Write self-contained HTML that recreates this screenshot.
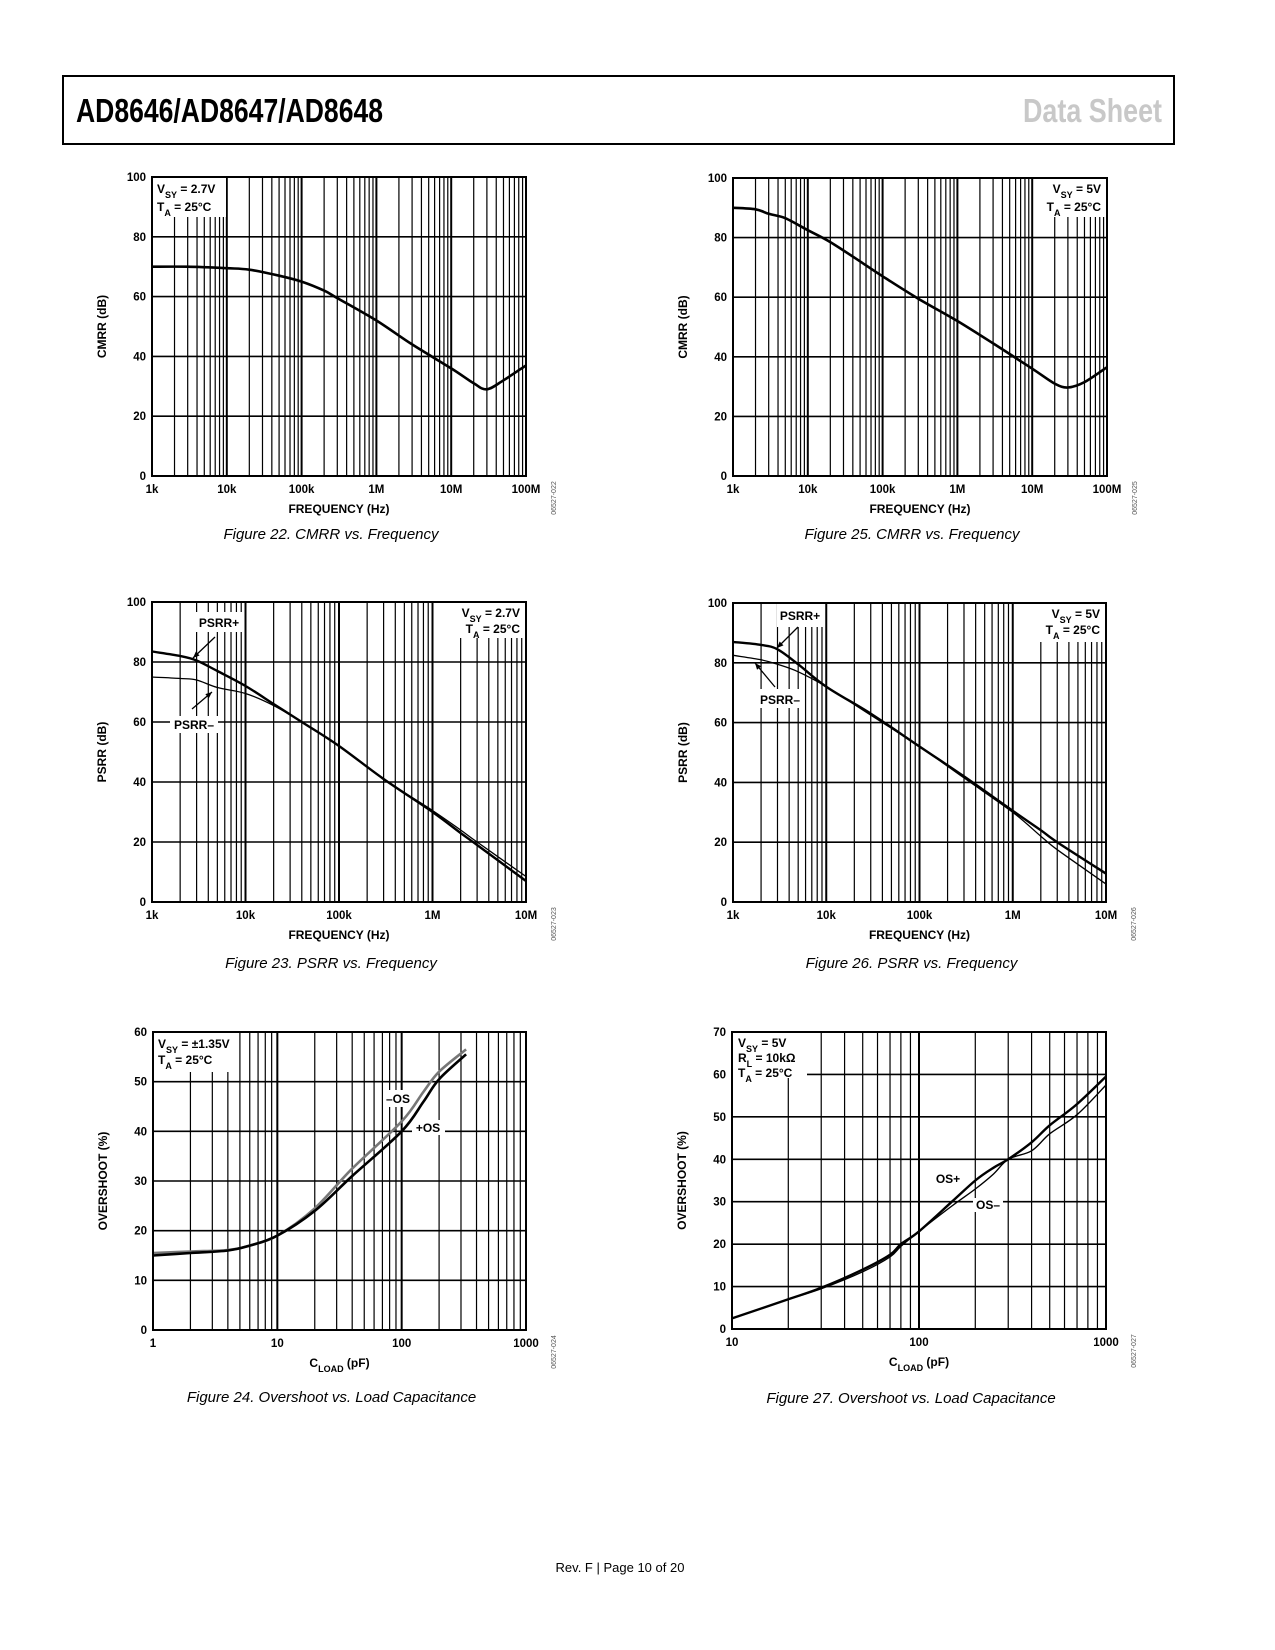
<!DOCTYPE html>
<html><head><meta charset="utf-8">
<style>
html,body{margin:0;padding:0;background:#fff;}
body{width:1275px;height:1650px;position:relative;overflow:hidden;}
svg{position:absolute;left:0;top:0;}
text{font-family:"Liberation Sans",Arial,sans-serif;}
</style></head>
<body>
<svg id="page" width="1275" height="1650" viewBox="0 0 1275 1650">
  <rect x="63" y="76" width="1111" height="68" fill="none" stroke="#000" stroke-width="2"/>
  <text x="76" y="122" font-size="33" font-weight="bold" textLength="307" lengthAdjust="spacingAndGlyphs">AD8646/AD8647/AD8648</text>
  <text x="1023" y="122" font-size="33" font-weight="bold" fill="#c8c8c8" textLength="139" lengthAdjust="spacingAndGlyphs">Data Sheet</text>
  <text x="620" y="1572" font-size="13" text-anchor="middle">Rev. F | Page 10 of 20</text>
  <g id="charts"></g>
</svg>
<script>
// ---- Figure 22: CMRR vs Freq, VSY=2.7V ----
const cmrr27Freq = [1e3,3e3,1e4,2e4,5e4,1e5,2e5,3e5,1e6,3e6,1e7,2e7,3e7,5e7,1e8];
const cmrr27Val  = [70,70,69.5,69,67,65,62,59.5,52,44,36,31,29,32,37];
// ---- Figure 25: CMRR vs Freq, VSY=5V ----
const cmrr5Freq = [1e3,2e3,3e3,5e3,1e4,2e4,5e4,1e5,3e5,1e6,3e6,1e7,2e7,3e7,5e7,1e8];
const cmrr5Val  = [90,89.5,88,86.5,82.5,78.5,72,67,59.5,52,44.5,36,31,29.7,31.5,36.5];
// ---- Figure 23: PSRR vs Freq, VSY=2.7V ----
const psrr27Freq = [1e3,2e3,3e3,5e3,1e4,2e4,4e4,1e5,3e5,1e6,2e6,3e6,1e7];
const psrr27Pos  = [83.5,82,80.5,77,72,66,60,52,41,30,23,19,7];
const psrr27Neg  = [75,74.5,74,71.5,69.5,65.5,60,52,41,30.5,24,20,8.5];
// ---- Figure 26: PSRR vs Freq, VSY=5V ----
const psrr5Freq = [1e3,2e3,3e3,5e3,1e4,3e4,1e5,3e5,1e6,2e6,3e6,1e7];
const psrr5Pos  = [87,86,84.5,79.5,72,63,52,42,30.5,24,20,9.5];
const psrr5Neg  = [82.5,81,79.5,77,72,62.5,52,41.5,30,22,17.5,6];
// ---- Figure 24: Overshoot vs CLOAD, VSY=±1.35V ----
const os135Cap = [1,2,4,6,10,20,40,100,150,200,330];
const os135Pos = [15,15.5,16,17,19,24,31,40,46,50.5,55.5];
const os135Neg = [15.5,15.8,16.1,17,19,24.5,32.5,42,48,52,56.5];
// ---- Figure 27: Overshoot vs CLOAD, VSY=5V ----
const os5Cap = [10,20,30,50,70,80,100,150,200,250,300,400,500,700,1000];
const os5Pos = [2.5,7,9.7,14,17.5,20,23,30,35,38,40,44,48,53,59.5];
const os5Neg = [2.5,7,9.5,13.5,17,19.5,23,29,33,36.5,40,42,46,50.5,57.5];
// tick labels
const freqTicks100M = ["1k","10k","100k","1M","10M","100M"];
const freqTicks10M = ["1k","10k","100k","1M","10M"];
const capTicks3 = ["1","10","100","1000"];
const capTicks2 = ["10","100","1000"];
const dbTicks = [0,20,40,60,80,100];
const os60Ticks = [0,10,20,30,40,50,60];
const os70Ticks = [0,10,20,30,40,50,60,70];

const NS = "http://www.w3.org/2000/svg";
const root = document.getElementById('charts');
function mk(tag, attrs, parent){const e=document.createElementNS(NS,tag);for(const k in attrs)e.setAttribute(k,attrs[k]);(parent||root).appendChild(e);return e;}

function chart(c){
  const g = mk('g',{});
  
  
  const x0=c.L,x1=c.R,y0=c.T,y1=c.B;
  const dec = c.decades;
  const lmin = Math.log10(c.xmin);
  const sx = v => x0 + (Math.log10(v)-lmin)/dec*(x1-x0);
  const sy = v => y1 - (v-c.ymin)/(c.ymax-c.ymin)*(y1-y0);
  for(let d=0; d<dec; d++){
    for(let m=2;m<=9;m++){
      const v=c.xmin*Math.pow(10,d)*m, x=sx(v);
      const gl = mk('line',{x1:x,x2:x,y1:y0,y2:y1,stroke:'#000','stroke-width':1.2},g);
      
      
    }
    if(d>0){const x=sx(c.xmin*Math.pow(10,d));
      const gl = mk('line',{x1:x,x2:x,y1:y0,y2:y1,stroke:'#000','stroke-width':2},g);
      
      }
  }
  c.yTicks.forEach(v=>{
    const y=sy(v);
    if(v>c.ymin && v<c.ymax){
      const gl = mk('line',{x1:x0,x2:x1,y1:y,y2:y,stroke:'#000','stroke-width':1.6},g);
      
      
    }
    const t = mk('text',{x:x0-6,y:y+4,'font-size':11.5,'font-weight':'bold','text-anchor':'end'},g);
    t.textContent = v;
    
    
  });
  c.xTicks.forEach((s,i)=>{
    const x = sx(c.xmin*Math.pow(10,i));
    const t = mk('text',{x:x,y:y1+17,'font-size':11.5,'font-weight':'bold','text-anchor':'middle'},g);
    t.textContent = s;
    
    
  });
  c.boxes.forEach(b=>{
    const r = mk('rect',{x:b[0],y:b[1],width:b[2],height:b[3],fill:'#fff'},g);
    
    
  });
  c.series.forEach(s=>{
    const pts = s.x.map((v,i)=>[sx(v),sy(s.y[i])]);
    let d='M'+pts[0][0].toFixed(1)+','+pts[0][1].toFixed(1);
    for(let i=0;i<pts.length-1;i++){
      const p0=pts[Math.max(0,i-1)],p1=pts[i],p2=pts[i+1],p3=pts[Math.min(pts.length-1,i+2)];
      const c1=[p1[0]+(p2[0]-p0[0])/6,p1[1]+(p2[1]-p0[1])/6];
      const c2=[p2[0]-(p3[0]-p1[0])/6,p2[1]-(p3[1]-p1[1])/6];
      d+=' C'+c1[0].toFixed(1)+','+c1[1].toFixed(1)+' '+c2[0].toFixed(1)+','+c2[1].toFixed(1)+' '+p2[0].toFixed(1)+','+p2[1].toFixed(1);
    }
    const p = mk('path',{d:d,fill:'none',stroke:s.color,'stroke-width':s.w,'stroke-linejoin':'round'},g);
    
    
  });
  const fr = mk('rect',{x:x0,y:y0,width:x1-x0,height:y1-y0,fill:'none',stroke:'#000','stroke-width':2},g);
  
  
  const xt = mk('text',{x:(x0+x1)/2,y:y1+37,'font-size':12,'font-weight':'bold','text-anchor':'middle'},g);
  xt.innerHTML = c.xTitle;
  
  
  const yc=(y0+y1)/2, yx=x0-46;
  const yt = mk('text',{x:yx,y:yc,'font-size':12,'font-weight':'bold','text-anchor':'middle',transform:'rotate(-90 '+yx+' '+yc+')'},g);
  yt.textContent = c.yTitle;
  
  
  const fx=x1+30, fy=y1+22;
  const fc = mk('text',{x:fx,y:fy,'font-size':7,fill:'#555','text-anchor':'middle',transform:'rotate(-90 '+fx+' '+fy+')'},g);
  fc.textContent = c.code;
  
  
  const cp = mk('text',{x:(x0+x1)/2-8,y:c.capY,'font-size':15,'font-style':'italic','text-anchor':'middle'},g);
  cp.textContent = c.caption;
  
  
  c.texts.forEach(t=>{
    const e = mk('text',{x:t[0],y:t[1],'font-size':12,'font-weight':'bold','text-anchor':t[3]||'start'},g);
    e.innerHTML = t[2];
    
    
  });
  (c.arrows||[]).forEach(a=>{
    const l = mk('line',{x1:a[0],y1:a[1],x2:a[2],y2:a[3],stroke:'#000','stroke-width':1.3},g);
    
    
    const ang=Math.atan2(a[3]-a[1],a[2]-a[0]), h=7, w=0.4;
    const p1=[a[2]-h*Math.cos(ang-w),a[3]-h*Math.sin(ang-w)], p2=[a[2]-h*Math.cos(ang+w),a[3]-h*Math.sin(ang+w)];
    const hd = mk('polygon',{points:a[2]+','+a[3]+' '+p1.join(',')+' '+p2.join(','),fill:'#000'},g);
    
    
  });
}
const sub = s => '<tspan baseline-shift="sub" font-size="9">'+s+'</tspan>';

chart({name:'cmrr-chart-2v7',L:152,R:526,T:177,B:476,xmin:1e3,decades:5,ymin:0,ymax:100,
  yTicks:dbTicks,xTicks:freqTicks100M,xTitle:'FREQUENCY (Hz)',yTitle:'CMRR (dB)',code:'06527-022',
  caption:'Figure 22. CMRR vs. Frequency',capY:539,
  boxes:[[153,178,73,39]],
  series:[{name:'cmrr-line',x:cmrr27Freq,y:cmrr27Val,color:'#000',w:2.6}],
  texts:[[157,193,'V'+sub('SY')+' = 2.7V'],[157,211,'T'+sub('A')+' = 25°C']]});

chart({name:'cmrr-chart-5v',L:733,R:1107,T:178,B:476,xmin:1e3,decades:5,ymin:0,ymax:100,
  yTicks:dbTicks,xTicks:freqTicks100M,xTitle:'FREQUENCY (Hz)',yTitle:'CMRR (dB)',code:'06527-025',
  caption:'Figure 25. CMRR vs. Frequency',capY:539,
  boxes:[[1052,179,54,38]],
  series:[{name:'cmrr-line',x:cmrr5Freq,y:cmrr5Val,color:'#000',w:2.6}],
  texts:[[1101,193,'V'+sub('SY')+' = 5V','end'],[1101,211,'T'+sub('A')+' = 25°C','end']]});

chart({name:'psrr-chart-2v7',L:152,R:526,T:602,B:902,xmin:1e3,decades:4,ymin:0,ymax:100,
  yTicks:dbTicks,xTicks:freqTicks10M,xTitle:'FREQUENCY (Hz)',yTitle:'PSRR (dB)',code:'06527-023',
  caption:'Figure 23. PSRR vs. Frequency',capY:968,
  boxes:[[460,603,65,35],[195,612,48,20],[170,716,48,17]],
  series:[{name:'psrr-minus-line',x:psrr27Freq,y:psrr27Neg,color:'#000',w:1.3},
          {name:'psrr-plus-line',x:psrr27Freq,y:psrr27Pos,color:'#000',w:2.4}],
  texts:[[520,617,'V'+sub('SY')+' = 2.7V','end'],[520,633,'T'+sub('A')+' = 25°C','end'],[219,627,'PSRR+','middle'],[194,729,'PSRR–','middle']],
  arrows:[[215,637,193,658],[192,709,212,692]]});

chart({name:'psrr-chart-5v',L:733,R:1106,T:603,B:902,xmin:1e3,decades:4,ymin:0,ymax:100,
  yTicks:dbTicks,xTicks:freqTicks10M,xTitle:'FREQUENCY (Hz)',yTitle:'PSRR (dB)',code:'06527-026',
  caption:'Figure 26. PSRR vs. Frequency',capY:968,
  boxes:[[1040,604,65,38],[777,604,46,23],[758,689,46,19]],
  series:[{name:'psrr-minus-line',x:psrr5Freq,y:psrr5Neg,color:'#000',w:1.3},
          {name:'psrr-plus-line',x:psrr5Freq,y:psrr5Pos,color:'#000',w:2.4}],
  texts:[[1100,618,'V'+sub('SY')+' = 5V','end'],[1100,634,'T'+sub('A')+' = 25°C','end'],[800,620,'PSRR+','middle'],[780,704,'PSRR–','middle']],
  arrows:[[798,627,777,648],[775,687,755,663]]});

chart({name:'overshoot-chart-1v35',L:153,R:526,T:1032,B:1330,xmin:1,decades:3,ymin:0,ymax:60,
  yTicks:os60Ticks,xTicks:capTicks3,xTitle:'C'+sub('LOAD')+' (pF)',yTitle:'OVERSHOOT (%)',code:'06527-024',
  caption:'Figure 24. Overshoot vs. Load Capacitance',capY:1402,
  boxes:[[154,1033,82,39],[385,1090,29,17],[412,1120,33,15]],
  series:[{name:'neg-os-line',x:os135Cap,y:os135Neg,color:'#777',w:2.6},
          {name:'pos-os-line',x:os135Cap,y:os135Pos,color:'#000',w:2.6}],
  texts:[[158,1048,'V'+sub('SY')+' = ±1.35V'],[158,1064,'T'+sub('A')+' = 25°C'],[398,1103,'–OS','middle'],[428,1132,'+OS','middle']]});

chart({name:'overshoot-chart-5v',L:732,R:1106,T:1032,B:1329,xmin:10,decades:2,ymin:0,ymax:70,
  yTicks:os70Ticks,xTicks:capTicks2,xTitle:'C'+sub('LOAD')+' (pF)',yTitle:'OVERSHOOT (%)',code:'06527-027',
  caption:'Figure 27. Overshoot vs. Load Capacitance',capY:1403,
  boxes:[[733,1033,74,45],[933,1172,30,14],[973,1198,30,14]],
  series:[{name:'os-minus-line',x:os5Cap,y:os5Neg,color:'#000',w:1.4},
          {name:'os-plus-line',x:os5Cap,y:os5Pos,color:'#000',w:2.4}],
  texts:[[738,1047,'V'+sub('SY')+' = 5V'],[738,1062,'R'+sub('L')+' = 10kΩ'],[738,1077,'T'+sub('A')+' = 25°C'],[948,1183,'OS+','middle'],[988,1209,'OS–','middle']]});
</script>
</body></html>
